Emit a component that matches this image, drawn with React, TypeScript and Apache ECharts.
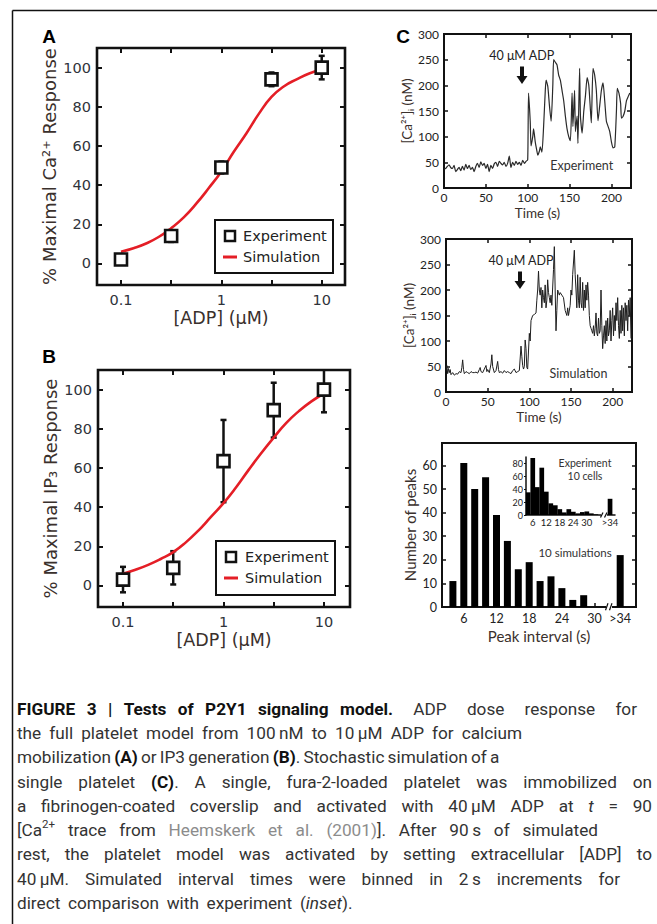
import React, { useEffect, useRef } from "react";
import * as echarts from "echarts";

// ---------------- Data ----------------
// Panels A/B: ADP dose response
const adpConc = [0.1, 0.316, 1, 3.16, 10];
const caExpMean = [2, 14, 49, 94, 100];
const caExpErr = [1.5, 3, 3, 3.5, 6];
const ip3ExpMean = [3, 9, 63.5, 89.5, 100];
const ip3ExpErr = [6.5, 8.5, 21, 14, 11.6];
const simConc = [0.1, 0.133, 0.178, 0.237, 0.316, 0.422, 0.562, 0.75, 1, 1.33, 1.78, 2.37, 3.16, 4.22, 5.62, 7.5, 10];
const caSim = [6, 7.8, 10.2, 13.5, 18, 23.5, 30.5, 38.5, 47, 57, 66.5, 76.5, 85, 90.5, 94, 97, 99];
const ip3Sim = [6, 8, 10.5, 13.5, 17, 22, 28, 35, 42, 50, 59, 67.5, 75.5, 83, 89, 94, 98];
const doseLabelTicks = [0.1, 1, 10];
const doseTickMarks = [0.1, 0.316, 1, 3.16, 10];
const pctTicks = [0, 20, 40, 60, 80, 100];

// Panel C: calcium traces [time (s), Ca (nM)]
const timeTicks = [0, 50, 100, 150, 200];
const caTicks = [0, 50, 100, 150, 200, 250, 300];
const expTrace: number[][] = [
  [0,37],[2,38],[4,42],[6,45],[8,40],[10,38],[12,44],[14,32],[16,36],[18,40],[20,34],[22,42],[24,35],[26,46],[28,38],[30,44],[32,36],[34,40],[36,32],[38,42],
  [40,48],[42,40],[44,51],[46,44],[48,48],[50,38],[52,46],[54,32],[56,44],[58,38],[60,47],[62,50],[64,42],[66,52],[68,48],[70,45],[72,50],[74,42],[76,48],[78,62],
  [80,40],[82,50],[84,44],[86,52],[88,46],[90,50],[92,44],[94,54],[96,48],[98,52],[100,55],
  [101,185],[103,130],[104,82],[106,100],[107,115],[109,90],[111,72],[112,64],[114,72],[115,80],[117,70],[119,120],[121,190],[122,210],[124,198],[126,160],[128,130],
  [130,200],[131,250],[133,245],[135,240],[137,220],[139,210],[141,190],[143,170],[145,140],[147,115],[149,100],[151,92],[153,185],[154,120],[156,190],[157,110],
  [159,140],[160,87],[162,233],[163,140],[165,107],[167,150],[169,180],[171,215],[173,200],[175,150],[176,127],[178,233],[180,220],[182,190],[184,131],[186,160],
  [188,190],[190,205],[192,170],[194,130],[196,120],[198,110],[200,90],[202,78],[204,80],[206,150],[207,194],[209,185],[211,165],[212,136],[214,140],[216,150],
  [218,170],[220,178],[222,185]
];
const simTrace: number[][] = [
  [0,40],[1,52],[2,36],[3,46],[4,38],[5,44],[6,34],[8,38],[10,33],[12,36],[14,35],[16,40],[18,38],[19,48],[20,63],[21,44],[22,36],[24,40],[26,38],[28,36],
  [30,40],[32,38],[34,38],[36,39],[38,37],[40,44],[41,48],[42,40],[44,38],[46,45],[48,52],[49,40],[50,44],[52,38],[54,55],[55,73],[56,50],[58,38],[60,42],[62,60],
  [63,44],[64,38],[66,40],[68,37],[70,42],[72,38],[74,40],[76,38],[78,36],[80,42],[82,45],[84,38],[86,40],[88,42],[90,90],[91,70],[92,52],[93,45],[94,50],[95,102],
  [96,85],[97,48],[98,45],[100,115],[101,100],[102,140],[104,150],[106,152],[108,155],[109,180],[110,200],[111,237],[112,200],[113,190],[114,205],[115,165],[116,200],
  [117,185],[118,175],[119,210],[120,165],[121,180],[122,220],[123,195],[124,185],[125,175],[126,190],[127,170],[129,240],[130,285],[131,200],[132,120],[133,160],
  [134,200],[135,195],[136,190],[137,195],[139,190],[141,185],[143,160],[145,150],[146,165],[147,150],[149,170],[150,200],[151,190],[152,230],[154,278],[155,230],
  [156,200],[157,165],[158,230],[159,180],[160,165],[161,225],[162,175],[163,165],[164,215],[165,160],[166,200],[167,165],[168,210],[169,180],[170,215],[171,190],
  [172,150],[173,130],[174,125],[175,120],[176,115],[177,130],[178,110],[179,125],[180,155],[181,115],[182,110],[183,145],[184,115],[185,120],[186,200],[187,130],
  [188,85],[189,110],[190,130],[191,95],[192,140],[193,100],[194,145],[195,110],[196,120],[197,160],[198,100],[199,140],[200,165],[201,110],[202,150],[203,120],
  [204,175],[205,140],[206,185],[207,130],[208,105],[209,160],[210,115],[211,170],[212,120],[213,165],[214,110],[215,175],[216,140],[217,170],[218,120],[219,180],
  [220,150],[221,185],[222,105]
];

// Panel C: peak interval histograms
const histBins = [4, 6, 8, 10, 12, 14, 16, 18, 20, 22, 24, 26, 28, 30, 32];
const simPeakCounts = [11, 61, 50, 55, 39, 28, 16, 19, 11, 13, 8, 3, 5, 0, 0];
const simOverflow = 22;
const insetBins = [4, 6, 8, 10, 12, 14, 16, 18, 20, 22, 24, 26, 28, 30, 32, 34];
const expPeakCounts = [35, 88, 43, 73, 36, 18, 15, 9, 4, 9, 5, 2.5, 4.5, 5.5, 2.5, 1];
const expOverflow = 25;
const overflowLabel = ">34";
const histXTicks = [6, 12, 18, 24, 30];
const histYTicks = [0, 10, 20, 30, 40, 50, 60];
const insetYTicks = [0, 20, 40, 60, 80];

const captionLines = [
  "{b|FIGURE 3 | Tests of P2Y1 signaling model.} ADP dose response for",
  "the full platelet model from 100\u2009nM to 10\u2009\u03bcM ADP for calcium",
  "mobilization {b|(A)} or IP3 generation {b|(B)}. Stochastic simulation of a",
  "single platelet {b|(C)}. A single, fura-2-loaded platelet was immobilized on",
  "a fibrinogen-coated coverslip and activated with 40\u2009\u03bcM ADP at {i|t} = 90",
  "[Ca{sup|2+} trace from {g|Heemskerk et al. (2001)}]. After 90\u2009s of simulated",
  "rest, the platelet model was activated by setting extracellular [ADP] to",
  "40\u2009\u03bcM. Simulated interval times were binned in 2\u2009s increments for",
  "direct comparison with experiment ({i|inset}).",
];

// ---------------- Layout / style ----------------
const CAP_RIGHT = [637, 522, 490, 652, 652, 598, 652, 620, null];
const CAP_Y = [709, 733, 757, 782, 806, 830, 854, 879, 903];
const CAP_LEFT = 17;
const CAP_FAMILY = "Roboto";
const CAP_SIZE = 17.2;
const CAP_STYLES: any = {
  n: { fontWeight: 400, fontStyle: "normal", fontSize: CAP_SIZE, fill: "#333", dy: 0 },
  b: { fontWeight: 700, fontStyle: "normal", fontSize: CAP_SIZE, fill: "#111", dy: 0 },
  i: { fontWeight: 400, fontStyle: "italic", fontSize: CAP_SIZE, fill: "#333", dy: 0 },
  g: { fontWeight: 400, fontStyle: "normal", fontSize: CAP_SIZE, fill: "#8c8c8c", dy: 0 },
  sup: { fontWeight: 400, fontStyle: "normal", fontSize: 11.5, fill: "#333", dy: -6 },
};

const F_AB = "DejaVu Sans";
const F_C = "Lato";
const TICK = "#2f333a";
const NAME = "#3a302c";
const RED = "#e41e26";
const INK = "#111";

const lg = (v: number) => Math.log10(v);
const fmtDose = (v: number) => {
  const c = Math.pow(10, v);
  return c < 1 ? c.toFixed(1) : String(Math.round(c));
};

function parseLine(s: string) {
  const segs: { st: string; t: string }[] = [];
  const re = /\{(\w+)\|([^}]*)\}/g;
  let last = 0;
  let m: RegExpExecArray | null;
  while ((m = re.exec(s))) {
    if (m.index > last) segs.push({ st: "n", t: s.slice(last, m.index) });
    segs.push({ st: m[1], t: m[2] });
    last = m.index + m[0].length;
  }
  if (last < s.length) segs.push({ st: "n", t: s.slice(last) });
  const words: { st: string; t: string }[][] = [[]];
  for (const sg of segs) {
    const parts = sg.t.split(" ");
    parts.forEach((p, i) => {
      if (i > 0) words.push([]);
      if (p) words[words.length - 1].push({ st: sg.st, t: p });
    });
  }
  return words.filter((w) => w.length);
}

function buildCaption(): any[] {
  const canvas = document.createElement("canvas");
  const ctx = canvas.getContext("2d")!;
  const fontOf = (st: any) => `${st.fontStyle} ${st.fontWeight} ${st.fontSize}px ${CAP_FAMILY}`;
  const meas = (t: string, st: any) => {
    ctx.font = fontOf(st);
    return ctx.measureText(t).width;
  };
  const spaceW = meas(" ", CAP_STYLES.n);
  const els: any[] = [];
  captionLines.forEach((line, li) => {
    const words = parseLine(line);
    const widths = words.map((w) => w.reduce((a, sg) => a + meas(sg.t, CAP_STYLES[sg.st]), 0));
    const total = widths.reduce((a, b) => a + b, 0);
    const right = CAP_RIGHT[li];
    // gaps between bold words stretch less than the others
    const isBold = (w: any[]) => w.every((sg) => sg.st === "b");
    const weights: number[] = [];
    for (let i = 0; i < words.length - 1; i++) {
      weights.push(isBold(words[i]) && isBold(words[i + 1]) ? 0.45 : 1);
    }
    const wSum = weights.reduce((a, b) => a + b, 0) || 1;
    const base = spaceW;
    let extra = 0;
    if (right != null && words.length > 1) {
      extra = Math.max(-0.25 * spaceW * weights.length, right - CAP_LEFT - total - weights.length * base);
    } else {
      extra = 0.8 * spaceW * wSum;
    }
    let x = CAP_LEFT;
    words.forEach((w, wi) => {
      let sx = x;
      w.forEach((sg) => {
        const st = CAP_STYLES[sg.st];
        els.push({
          type: "text",
          x: sx,
          y: CAP_Y[li] + st.dy,
          z: 20,
          style: {
            text: sg.t,
            fontFamily: CAP_FAMILY,
            fontSize: st.fontSize,
            fontWeight: st.fontWeight,
            fontStyle: st.fontStyle,
            fill: st.fill,
            align: "left",
            verticalAlign: "middle",
          },
        });
        sx += meas(sg.t, st);
      });
      const g = wi < weights.length ? base + (extra * weights[wi]) / wSum : 0;
      x += widths[wi] + g;
    });
  });
  return els;
}

const errRender = (params: any, api: any) => {
  const x = api.value(0);
  const y = api.value(1);
  const e = api.value(2);
  const p1 = api.coord([x, y + e]);
  const p2 = api.coord([x, y - e]);
  const hw = 3;
  const st = { stroke: INK, lineWidth: 2.5 };
  return {
    type: "group",
    children: [
      { type: "line", shape: { x1: p1[0], y1: p1[1], x2: p2[0], y2: p2[1] }, style: st },
      { type: "line", shape: { x1: p1[0] - hw, y1: p1[1], x2: p1[0] + hw, y2: p1[1] }, style: st },
      { type: "line", shape: { x1: p2[0] - hw, y1: p2[1], x2: p2[0] + hw, y2: p2[1] }, style: st },
    ],
  };
};

function ax(base: any) {
  return {
    type: "value",
    splitLine: { show: false },
    axisLine: { show: false, onZero: false },
    nameMoveOverlap: false,
    ...base,
  };
}

function tickCfg(values: number[], len: number, w: number, inside = true) {
  return { show: true, inside, length: len, lineStyle: { color: INK, width: w }, customValues: values };
}

function buildOption(): any {
  const grid = [
    { left: 97, top: 48, width: 248, height: 237 }, // A
    { left: 98, top: 370, width: 252, height: 237 }, // B
    { left: 444, top: 34, width: 187, height: 154 }, // C1
    { left: 446, top: 239, width: 186, height: 153 }, // C2
    { left: 442, top: 443, width: 194, height: 164 }, // hist
    { left: 526, top: 457, width: 89, height: 58 }, // inset
  ].map((g, i) => ({
    ...g,
    show: i < 5,
    borderColor: INK,
    borderWidth: i < 2 ? 2.6 : 2,
    backgroundColor: "transparent",
    containLabel: false,
    outerBoundsMode: "none",
  }));

  const abLabel = (vals: number[], fmt?: any, margin = 6) => ({
    customValues: vals,
    formatter: fmt,
    margin,
    fontFamily: F_AB,
    fontSize: 14.5,
    color: TICK,
  });
  const cLabel = (vals: number[], margin: number, size = 12, fmt?: any) => ({
    customValues: vals,
    formatter: fmt,
    margin,
    fontFamily: F_C,
    fontSize: size,
    color: "#222",
  });

  const doseTickVals = doseTickMarks.map(lg);
  const doseLabelVals = doseLabelTicks.map(lg);
  const ovFmt = (v: number) => (v > 33 ? overflowLabel : String(v));

  const xAxis: any[] = [];
  const yAxis: any[] = [];
  // A / B
  const abExt = [
    [-1.239, 1.232],
    [-1.249, 1.259],
  ];
  const abNames = ["% Maximal Ca\u00b2\u207a Response", "% Maximal IP\u2083 Response"];
  [0, 1].forEach((g) => {
    xAxis.push(
      ax({
        gridIndex: g,
        position: "bottom",
        min: abExt[g][0],
        max: abExt[g][1],
        axisTick: tickCfg(doseTickVals, 5, 2),
        axisLabel: abLabel(doseLabelVals, fmtDose, 7),
        name: "[ADP] (\u03bcM)",
        nameLocation: "middle",
        nameGap: 24,
        nameTextStyle: { fontFamily: F_AB, fontSize: 17.5, color: NAME },
      })
    );
    xAxis.push(
      ax({
        gridIndex: g,
        position: "top",
        min: abExt[g][0],
        max: abExt[g][1],
        axisTick: tickCfg(doseTickVals, 5, 2),
        axisLabel: { show: false },
      })
    );
    yAxis.push(
      ax({
        gridIndex: g,
        position: "left",
        min: -11,
        max: 110,
        axisTick: tickCfg(pctTicks, 5, 2),
        axisLabel: abLabel(pctTicks, undefined, 6),
        name: abNames[g],
        nameLocation: "middle",
        nameGap: 39,
        nameRotate: 90,
        nameTextStyle: { fontFamily: F_AB, fontSize: 18, color: NAME },
      })
    );
    yAxis.push(
      ax({
        gridIndex: g,
        position: "right",
        min: -11,
        max: 110,
        axisTick: tickCfg(pctTicks, 5, 2),
        axisLabel: { show: false },
      })
    );
  });
  // C1 / C2
  const cMax = [223.4, 223.2];
  [2, 3].forEach((g, k) => {
    xAxis.push(
      ax({
        gridIndex: g,
        position: "bottom",
        min: 0,
        max: cMax[k],
        axisTick: tickCfg(timeTicks, 4, 1.5),
        axisLabel: cLabel(timeTicks, 3),
        name: "Time (s)",
        nameLocation: "middle",
        nameGap: 18,
        nameTextStyle: { fontFamily: F_C, fontSize: 13.5, color: NAME },
      })
    );
    xAxis.push(
      ax({
        gridIndex: g,
        position: "top",
        min: 0,
        max: cMax[k],
        axisTick: tickCfg(timeTicks, 4, 1.5),
        axisLabel: { show: false },
      })
    );
    yAxis.push(
      ax({
        gridIndex: g,
        position: "left",
        min: 0,
        max: 300,
        axisTick: tickCfg(caTicks, 4, 1.5),
        axisLabel: cLabel(caTicks, 5),
        name: "[Ca\u00b2\u207a]\u1d62 (nM)",
        nameLocation: "middle",
        nameGap: 30,
        nameRotate: 90,
        nameTextStyle: { fontFamily: F_C, fontSize: 13.5, color: NAME },
      })
    );
    yAxis.push(
      ax({
        gridIndex: g,
        position: "right",
        min: 0,
        max: 300,
        axisTick: tickCfg(caTicks, 4, 1.5),
        axisLabel: { show: false },
      })
    );
  });
  // Histogram
  xAxis.push(
    ax({
      gridIndex: 4,
      position: "bottom",
      min: 2,
      max: 37.6,
      axisTick: tickCfg(histXTicks, 4, 1.5),
      axisLabel: cLabel([...histXTicks, 34.7], 5, 12.5, ovFmt),
      name: "Peak interval (s)",
      nameLocation: "middle",
      nameGap: 21,
      nameTextStyle: { fontFamily: F_C, fontSize: 15, color: NAME },
    })
  );
  yAxis.push(
    ax({
      gridIndex: 4,
      position: "left",
      min: 0,
      max: 69.5,
      axisTick: tickCfg(histYTicks, 4, 1.5),
      axisLabel: cLabel(histYTicks, 5, 12.5),
      name: "Number of peaks",
      nameLocation: "middle",
      nameGap: 25,
      nameRotate: 90,
      nameTextStyle: { fontFamily: F_C, fontSize: 15, color: NAME },
    })
  );
  yAxis.push(
    ax({
      gridIndex: 4,
      position: "right",
      min: 0,
      max: 69.5,
      axisTick: tickCfg(histYTicks, 4, 1.5),
      axisLabel: { show: false },
    })
  );
  // Inset
  xAxis.push(
    ax({
      gridIndex: 5,
      position: "bottom",
      min: 3,
      max: 42.5,
      axisLine: { show: true, onZero: false, lineStyle: { color: INK, width: 1.5 } },
      axisTick: { show: false },
      axisLabel: cLabel([...histXTicks, 40.3], 2, 9.5, ovFmt),
    })
  );
  yAxis.push(
    ax({
      gridIndex: 5,
      position: "left",
      min: 0,
      max: 89.5,
      axisLine: { show: true, onZero: false, lineStyle: { color: INK, width: 1.5 } },
      axisTick: tickCfg(insetYTicks, 2, 1, false),
      axisLabel: cLabel(insetYTicks, 3, 9),
    })
  );

  const expSeries = (xi: number, yi: number, means: number[], errs: number[]) => [
    {
      type: "custom",
      xAxisIndex: xi,
      yAxisIndex: yi,
      renderItem: errRender,
      clip: true,
      z: 3,
      encode: { x: 0, y: 1 },
      data: adpConc.map((c, i) => [lg(c), means[i], errs[i]]),
    },
    {
      type: "scatter",
      name: "Experiment",
      xAxisIndex: xi,
      yAxisIndex: yi,
      symbol: "rect",
      symbolSize: 12,
      z: 5,
      itemStyle: { color: "#fff", borderColor: INK, borderWidth: 2.6, opacity: 1 },
      data: adpConc.map((c, i) => [lg(c), means[i]]),
    },
  ];
  const simSeries = (xi: number, yi: number, vals: number[]) => ({
    type: "line",
    name: "Simulation",
    xAxisIndex: xi,
    yAxisIndex: yi,
    smooth: true,
    symbol: "none",
    z: 4,
    lineStyle: { color: RED, width: 2.6 },
    data: simConc.map((c, i) => [lg(c), vals[i]]),
  });

  const series: any[] = [
    ...expSeries(0, 0, caExpMean, caExpErr),
    simSeries(0, 0, caSim),
    ...expSeries(2, 2, ip3ExpMean, ip3ExpErr),
    simSeries(2, 2, ip3Sim),
    {
      type: "line",
      xAxisIndex: 4,
      yAxisIndex: 4,
      symbol: "none",
      smooth: 0.2,
      lineStyle: { color: "#2a2a2a", width: 1.2 },
      data: expTrace,
    },
    {
      type: "line",
      xAxisIndex: 6,
      yAxisIndex: 6,
      symbol: "none",
      lineStyle: { color: "#1e1e1e", width: 1 },
      data: simTrace,
    },
    {
      type: "bar",
      xAxisIndex: 8,
      yAxisIndex: 8,
      barWidth: 7,
      itemStyle: { color: "#000" },
      data: [...histBins.map((b, i) => [b, simPeakCounts[i]]), [34.7, simOverflow]],
    },
    {
      type: "bar",
      xAxisIndex: 9,
      yAxisIndex: 10,
      barWidth: 4.7,
      itemStyle: { color: "#000" },
      data: [...insetBins.map((b, i) => [b, expPeakCounts[i]]), [40.3, expOverflow]],
    },
  ];

  const txt = (text: string, x: number, y: number, size: number, family: string, extra: any = {}) => ({
    type: "text",
    x,
    y,
    z: 20,
    style: {
      text,
      fontFamily: family,
      fontSize: size,
      fill: extra.fill || "#222",
      fontWeight: extra.fontWeight || "normal",
      align: extra.align || "left",
      verticalAlign: "middle",
    },
  });
  const legend = (bx: number, by: number, bw: number, bh: number, mx: number, ty1: number, ty2: number, tx: number) => [
    {
      type: "rect",
      z: 15,
      shape: { x: bx, y: by, width: bw, height: bh },
      style: { fill: "#fff", stroke: INK, lineWidth: 2 },
    },
    {
      type: "rect",
      z: 16,
      shape: { x: mx - 5, y: ty1 - 5, width: 10, height: 10 },
      style: { fill: "#fff", stroke: INK, lineWidth: 2.5 },
    },
    {
      type: "line",
      z: 16,
      shape: { x1: mx - 7, y1: ty2, x2: mx + 7, y2: ty2 },
      style: { stroke: RED, lineWidth: 3 },
    },
    txt("Experiment", tx, ty1, 14.5, F_AB),
    txt("Simulation", tx, ty2, 14.5, F_AB),
  ];
  const arrow = (cx: number, y0: number, y1: number, y2: number) => ({
    type: "polygon",
    z: 15,
    shape: {
      points: [
        [cx - 2, y0],
        [cx + 2, y0],
        [cx + 2, y1],
        [cx + 5.5, y1],
        [cx, y2],
        [cx - 5.5, y1],
        [cx - 2, y1],
      ],
    },
    style: { fill: "#111" },
  });
  const brk = (x: number, y: number, h: number) => [
    { type: "rect", z: 15, shape: { x: x - 1, y: y - 3, width: 6, height: 6 }, style: { fill: "#fff" } },
    { type: "line", z: 16, shape: { x1: x - 1.5, y1: y + h, x2: x + 1, y2: y - h }, style: { stroke: INK, lineWidth: 1.2 } },
    { type: "line", z: 16, shape: { x1: x + 2.5, y1: y + h, x2: x + 5, y2: y - h }, style: { stroke: INK, lineWidth: 1.2 } },
  ];

  const graphicEls: any[] = [
    { type: "line", z: 20, shape: { x1: 12.5, y1: 10.5, x2: 657, y2: 10.5 }, style: { stroke: "#111", lineWidth: 1.5 } },
    { type: "line", z: 20, shape: { x1: 12.5, y1: 10.5, x2: 12.5, y2: 924 }, style: { stroke: "#111", lineWidth: 1.5 } },
    txt("A", 49, 36, 19, "Liberation Sans", { fontWeight: "bold", align: "center", fill: "#000" }),
    txt("B", 49, 356, 19, "Liberation Sans", { fontWeight: "bold", align: "center", fill: "#000" }),
    txt("C", 403, 36, 19, "Liberation Sans", { fontWeight: "bold", align: "center", fill: "#000" }),
    ...legend(215, 220, 118, 53, 230, 236, 257, 243),
    ...legend(216, 541, 119, 54, 231, 557, 578, 245),
    txt("40 \u03bcM ADP", 521.7, 55, 12.5, F_C, { align: "center" }),
    arrow(522, 66.5, 76, 84),
    txt("Experiment", 581.7, 165.7, 12.5, F_C, { align: "center", fill: "#333" }),
    txt("40 \u03bcM ADP", 521, 260.7, 12.5, F_C, { align: "center" }),
    arrow(520, 271.5, 281, 289),
    txt("Simulation", 578.5, 373, 12.5, F_C, { align: "center", fill: "#333" }),
    txt("Experiment", 585, 463, 10.5, F_C, { align: "center", fill: "#333" }),
    txt("10 cells", 585, 476, 10.5, F_C, { align: "center", fill: "#333" }),
    txt("10 simulations", 575, 552.7, 11.5, F_C, { align: "center", fill: "#333" }),
    ...brk(607, 606.7, 3.5),
    ...brk(602, 515, 2.5),
    ...buildCaption(),
  ];

  return {
    animation: false,
    backgroundColor: "#fff",
    textStyle: { fontFamily: F_AB },
    grid,
    xAxis,
    yAxis,
    series,
    graphic: { elements: graphicEls },
  };
}

export default function App() {
  const ref = useRef<HTMLDivElement>(null);
  useEffect(() => {
    if (!ref.current) return;
    const chart = echarts.init(ref.current, undefined, { renderer: "svg" });
    chart.setOption(buildOption());
    return () => chart.dispose();
  }, []);
  return (
    <div
      ref={ref}
      style={{ position: "absolute", left: 0, top: 0, width: 657, height: 924, background: "#fff" }}
    />
  );
}
